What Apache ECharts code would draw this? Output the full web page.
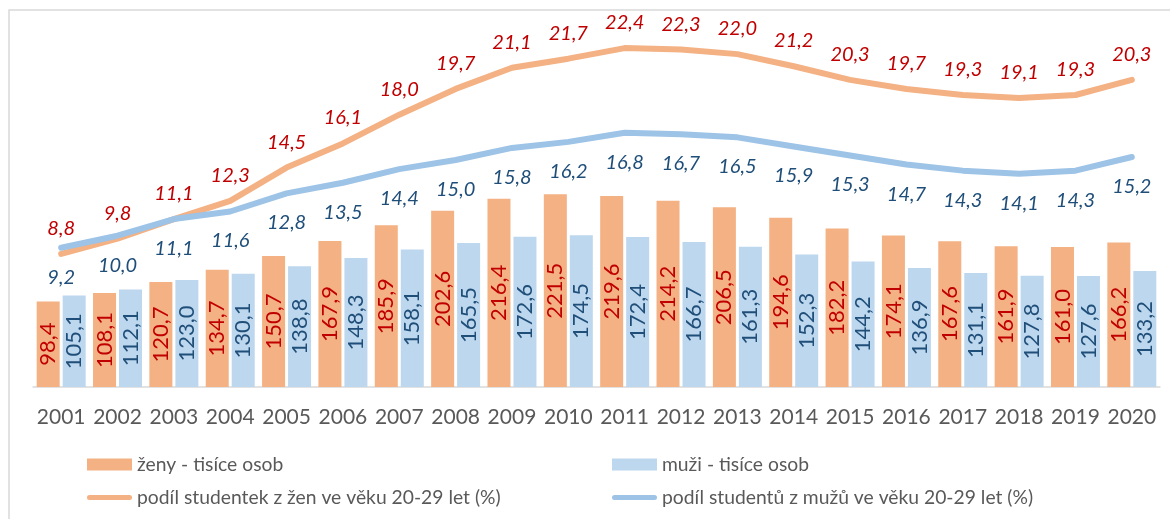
<!DOCTYPE html>
<html>
<head>
<meta charset="utf-8">
<script src="https://cdn.jsdelivr.net/npm/echarts@6/dist/echarts.min.js"></script>
<style>
  html, body { margin: 0; padding: 0; background: #fff; }
  #chart { width: 1170px; height: 519px; }
</style>
</head>
<body>
<div id="chart"></div>
<script>
// roky
const years = ["2001", "2002", "2003", "2004", "2005", "2006", "2007", "2008", "2009", "2010",
  "2011", "2012", "2013", "2014", "2015", "2016", "2017", "2018", "2019", "2020"];

// studenti v tisících
const zeny = [98.4, 108.1, 120.7, 134.7, 150.7, 167.9, 185.9, 202.6, 216.4, 221.5,
  219.6, 214.2, 206.5, 194.6, 182.2, 174.1, 167.6, 161.9, 161.0, 166.2];
const muzi = [105.1, 112.1, 123.0, 130.1, 138.8, 148.3, 158.1, 165.5, 172.6, 174.5,
  172.4, 166.7, 161.3, 152.3, 144.2, 136.9, 131.1, 127.8, 127.6, 133.2];

// podíl ve věku 20-29 let (%)
const podilZeny = [8.8, 9.8, 11.1, 12.3, 14.5, 16.1, 18.0, 19.7, 21.1, 21.7,
  22.4, 22.3, 22.0, 21.2, 20.3, 19.7, 19.3, 19.1, 19.3, 20.3];
const podilMuzi = [9.2, 10.0, 11.1, 11.6, 12.8, 13.5, 14.4, 15.0, 15.8, 16.2,
  16.8, 16.7, 16.5, 15.9, 15.3, 14.7, 14.3, 14.1, 14.3, 15.2];

const names = {
  zeny: "ženy - tisíce osob",
  muzi: "muži - tisíce osob",
  podilZeny: "podíl studentek z žen ve věku 20-29 let (%)",
  podilMuzi: "podíl studentů z mužů ve věku 20-29 let (%)",
};

const font = 'Lato, "Open Sans", sans-serif';
const fmt = (p) => p.value.toFixed(1).replace(".", ",");
// zaoblená čára do legendy
const lineIcon = "path://M2.5,0 L42.5,0 A2.5,2.5 0 0 1 42.5,5 L2.5,5 A2.5,2.5 0 0 1 2.5,0 Z";

const legendBase = {
  orient: "vertical",
  top: 455,
  padding: 0,
  itemWidth: 45,
  itemHeight: 12,
  itemGap: 14,
  symbolKeepAspect: true,
  textStyle: { fontSize: 19.3, color: "#595959", fontFamily: font },
};

const chart = echarts.init(document.getElementById("chart"));
chart.setOption({
  animation: false,
  backgroundColor: "#fff",
  textStyle: { fontFamily: font },
  graphic: [
    {
      type: "rect",
      shape: { x: 9, y: 10, width: 1300, height: 700 },
      style: { fill: "none", stroke: "#d9d9d9", lineWidth: 1.5 },
      silent: true,
    },
  ],
  grid: { left: 33, right: 10, top: 39, bottom: 132 },
  legend: [
    Object.assign({}, legendBase, {
      left: 87,
      data: [
        { name: names.zeny, icon: "rect" },
        { name: names.podilZeny, icon: lineIcon },
      ],
    }),
    Object.assign({}, legendBase, {
      left: 612,
      data: [
        { name: names.muzi, icon: "rect" },
        { name: names.podilMuzi, icon: lineIcon },
      ],
    }),
  ],
  xAxis: {
    type: "category",
    data: years,
    axisTick: { show: false },
    axisLine: { lineStyle: { color: "#d9d9d9", width: 1.5 } },
    axisLabel: { interval: 0, fontSize: 21, color: "#595959", margin: 20, fontFamily: font },
  },
  yAxis: [
    { type: "value", min: 0, max: 400, show: false, splitLine: { show: false } },
    { type: "value", min: 0, max: 23, show: false, splitLine: { show: false } },
  ],
  series: [
    {
      name: names.zeny,
      type: "bar",
      data: zeny,
      barWidth: 23,
      barGap: "13%",
      itemStyle: { color: "#f4b183" },
      label: {
        show: true,
        position: "inside",
        rotate: 90,
        fontSize: 22,
        color: "#c00000",
        fontFamily: font,
        formatter: fmt,
      },
    },
    {
      name: names.muzi,
      type: "bar",
      data: muzi,
      barWidth: 23,
      itemStyle: { color: "#bdd7ee" },
      label: {
        show: true,
        position: "inside",
        rotate: 90,
        fontSize: 22,
        color: "#1f4e79",
        fontFamily: font,
        formatter: fmt,
      },
    },
    {
      name: names.podilZeny,
      type: "line",
      yAxisIndex: 1,
      data: podilZeny,
      symbol: "circle",
      symbolSize: 1,
      itemStyle: { color: "#f4b183" },
      lineStyle: { color: "#f4b183", width: 6, cap: "round", join: "round" },
      label: {
        show: true,
        position: "top",
        distance: 15,
        fontSize: 20,
        fontStyle: "italic",
        color: "#c00000",
        fontFamily: font,
        formatter: fmt,
      },
      z: 3,
    },
    {
      name: names.podilMuzi,
      type: "line",
      yAxisIndex: 1,
      data: podilMuzi,
      symbol: "circle",
      symbolSize: 1,
      itemStyle: { color: "#9dc3e6" },
      lineStyle: { color: "#9dc3e6", width: 6, cap: "round", join: "round" },
      label: {
        show: true,
        position: "bottom",
        distance: 19,
        fontSize: 20,
        fontStyle: "italic",
        color: "#1f4e79",
        fontFamily: font,
        formatter: fmt,
      },
      z: 3,
    },
  ],
});
</script>
</body>
</html>
